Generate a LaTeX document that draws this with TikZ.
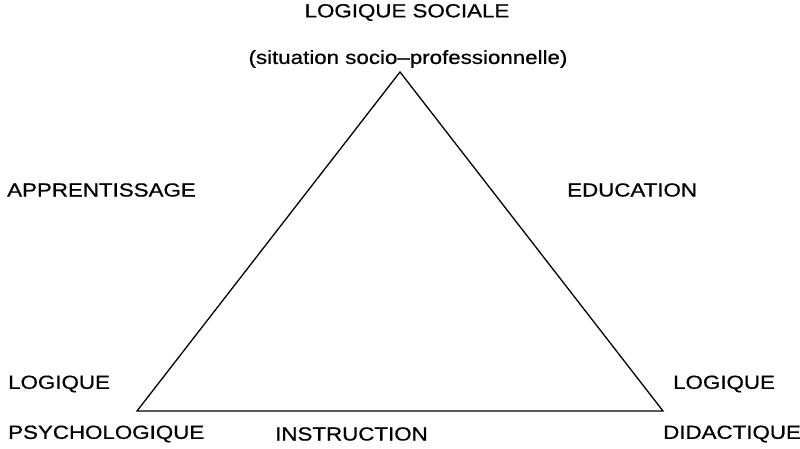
\documentclass[tikz,border=0pt]{standalone}
\usepackage{fontspec}
\setmainfont{Liberation Sans}
\newfontfamily\hv{Liberation Sans}[FakeBold=0.6]
\newcommand{\lb}[1]{\scalebox{1.175}[1]{#1}}
\begin{document}
\begin{tikzpicture}[x=1pt,y=-1pt,
  lbl/.style={inner sep=0pt,font=\hv\fontsize{19}{21}\selectfont},
  tri/.style={draw=black,line width=1.3pt,line join=miter}]
\useasboundingbox (0,0) rectangle (800,448);
\fill[white] (0,0) rectangle (800,448);
\coordinate (A) at (400,72);
\coordinate (B) at (137,411);
\coordinate (C) at (663,411);
\draw[tri] (A) -- (B) -- (C) -- cycle;
\node[lbl] (soc) at (407,12.5) {\lb{LOGIQUE SOCIALE}};
\node[lbl] (sit) at (408,59) {\lb{(situation socio\textendash professionnelle)}};
\node[lbl,anchor=west] (app) at (7,190) {\lb{APPRENTISSAGE}};
\node[lbl,anchor=west] (edu) at (567,190) {\lb{EDUCATION}};
\node[lbl,anchor=west] (lg1) at (8,384) {\lb{LOGIQUE}};
\node[lbl,anchor=west] (psy) at (8,434) {\lb{PSYCHOLOGIQUE}};
\node[lbl,anchor=west] (ins) at (275,434) {\lb{INSTRUCTION}};
\node[lbl,anchor=west] (lg2) at (673,384) {\lb{LOGIQUE}};
\node[lbl,anchor=west] (did) at (663,434) {\lb{DIDACTIQUE}};
\end{tikzpicture}
\end{document}
